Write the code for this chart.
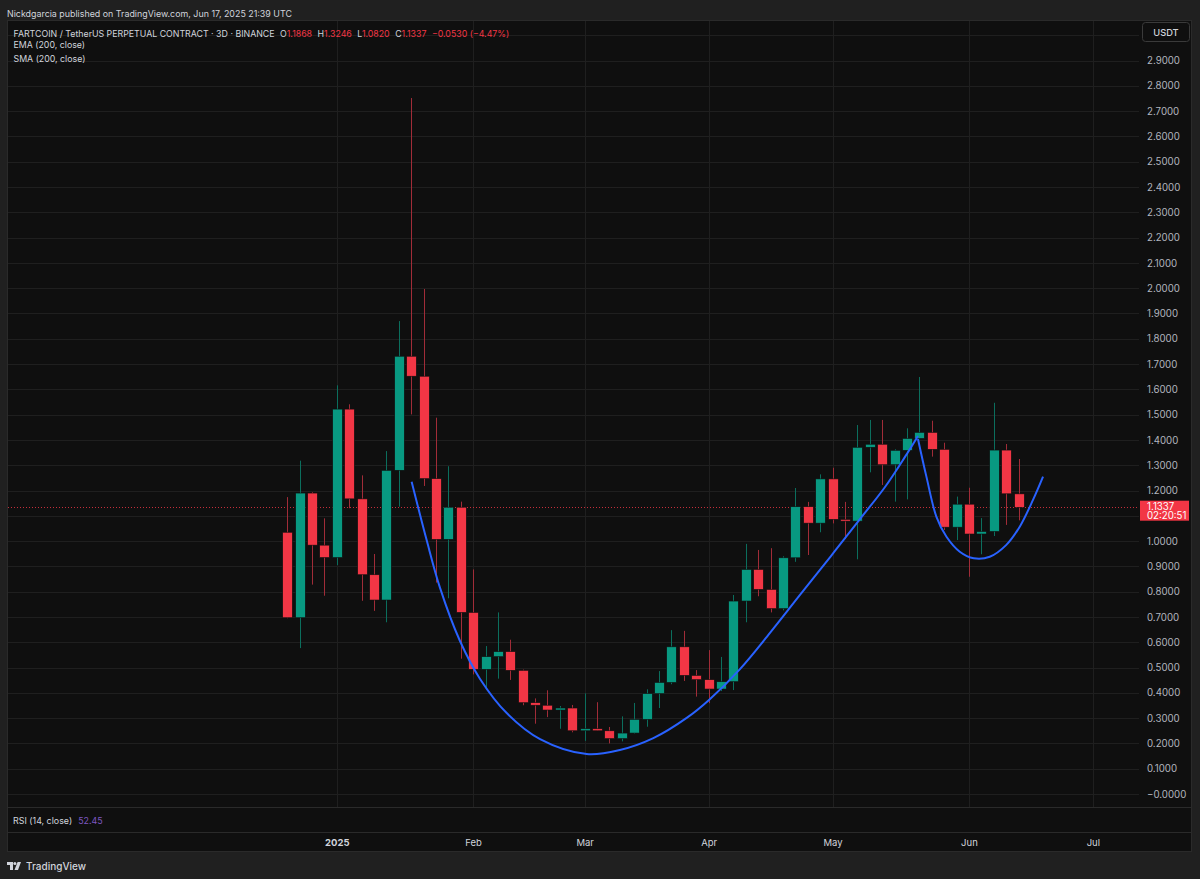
<!DOCTYPE html>
<html>
<head>
<meta charset="utf-8">
<script src="https://cdn.jsdelivr.net/npm/d3@7"></script>
<style>
  html, body { margin: 0; padding: 0; background: #202020; }
  svg { display: block; font-family: Inter, 'Noto Sans', sans-serif; }
</style>
</head>
<body>
<div id="chart"></div>
<script>
// 3D candles, FARTCOIN/USDT perp, Dec 20 2024 -> Jun 15 2025
var opens = [1.035, 0.697, 1.190, 0.984, 0.935, 1.522, 1.167, 0.867, 0.767, 1.280,
  1.731, 1.652, 1.247, 1.007, 1.134, 0.718, 0.493, 0.543, 0.563, 0.489,
  0.361, 0.351, 0.332, 0.340, 0.250, 0.258, 0.250, 0.219, 0.241, 0.295,
  0.397, 0.441, 0.582, 0.469, 0.452, 0.415, 0.444, 0.763, 0.888, 0.809,
  0.733, 0.934, 1.136, 1.071, 1.246, 1.086, 1.079, 1.371, 1.383, 1.302,
  1.359, 1.406, 1.430, 1.363, 1.055, 1.146, 1.028, 1.038, 1.360, 1.1868]
var highs = [1.174, 1.318, 1.194, 1.090, 1.616, 1.541, 1.260, 0.949, 1.356, 1.870,
  2.752, 1.997, 1.488, 1.296, 1.156, 0.888, 0.585, 0.718, 0.610, 0.492,
  0.378, 0.410, 0.348, 0.352, 0.398, 0.363, 0.265, 0.307, 0.360, 0.414,
  0.486, 0.648, 0.645, 0.490, 0.569, 0.542, 0.787, 0.989, 0.965, 0.972,
  0.940, 1.210, 1.155, 1.264, 1.290, 1.155, 1.459, 1.479, 1.479, 1.363,
  1.446, 1.649, 1.476, 1.389, 1.176, 1.211, 1.091, 1.547, 1.384, 1.3246]
var lows = [0.695, 0.577, 0.828, 0.784, 0.905, 1.130, 0.764, 0.724, 0.679, 1.136,
  1.501, 1.218, 0.836, 0.774, 0.535, 0.473, 0.418, 0.456, 0.451, 0.351,
  0.278, 0.304, 0.258, 0.244, 0.210, 0.249, 0.200, 0.208, 0.239, 0.266,
  0.340, 0.434, 0.447, 0.385, 0.359, 0.407, 0.411, 0.679, 0.782, 0.718,
  0.726, 0.918, 0.945, 1.035, 1.070, 1.008, 0.928, 1.272, 1.222, 1.156,
  1.165, 1.405, 1.334, 1.044, 1.004, 0.859, 0.948, 1.020, 1.064, 1.0820]
var closes = [0.697, 1.190, 0.984, 0.935, 1.522, 1.167, 0.867, 0.767, 1.280, 1.731,
  1.652, 1.247, 1.007, 1.134, 0.718, 0.493, 0.543, 0.563, 0.489, 0.361,
  0.351, 0.332, 0.340, 0.250, 0.258, 0.250, 0.219, 0.241, 0.295, 0.397,
  0.441, 0.582, 0.469, 0.452, 0.415, 0.444, 0.763, 0.888, 0.809, 0.733,
  0.934, 1.136, 1.071, 1.246, 1.086, 1.079, 1.371, 1.383, 1.302, 1.359,
  1.406, 1.430, 1.363, 1.055, 1.146, 1.028, 1.038, 1.360, 1.187, 1.1337]

// hand-drawn curves (bar offset, price)
var cupBars = [10.04, 11.25, 12.33, 13.94, 15.56, 17.71, 20.40, 24.16, 26.84, 29.54, 32.23,
  34.03, 36.53, 38.95, 41.37, 43.87, 46.21, 48.23, 49.84, 50.89]
var cupPrices = [1.235, 1.004, 0.815, 0.605, 0.455, 0.320, 0.217, 0.158, 0.174, 0.221, 0.301,
  0.372, 0.494, 0.637, 0.787, 0.941, 1.087, 1.214, 1.333, 1.416]
var handleBars = [50.89, 51.57, 52.38, 53.19, 54.26, 55.39, 56.68, 58.02, 59.10, 60.17, 60.98]
var handlePrices = [1.404, 1.255, 1.096, 1.017, 0.958, 0.932, 0.938, 0.985, 1.057, 1.163, 1.255]

var priceTicks = [0, 0.1, 0.2, 0.3, 0.4, 0.5, 0.6, 0.7, 0.8, 0.9, 1.0, 1.1, 1.2, 1.3, 1.4,
  1.5, 1.6, 1.7, 1.8, 1.9, 2.0, 2.1, 2.2, 2.3, 2.4, 2.5, 2.6, 2.7, 2.8, 2.9, 3.0]
// 1.1 sits under the last price tag and 3.0 under the currency box
var hiddenLabels = [1.1, 3.0]
var monthDates = ['2025-01-01', '2025-02-03', '2025-03-02', '2025-04-01', '2025-05-01', '2025-06-03', '2025-07-03']
var monthLabels = ['2025', 'Feb', 'Mar', 'Apr', 'May', 'Jun', 'Jul']

var lastPrice = 1.1337

var width = 1200
var height = 879

var panel = { left: 7, right: 1192, top: 20, bottom: 852 }
var plotRight = 1139
var mainBottom = 807
var timeTop = 832

var up = '#089981'
var down = '#f23645'
var upWick = '#0b6e5d'
var downWick = '#a12c38'
var textColor = '#d1d4dc'
var axisText = '#b2b5be'
var gridColor = '#1f1f1f'

var startDate = new Date(Date.UTC(2024, 11, 20))
function barDate(i) {
  return new Date(startDate.getTime() + i * 3 * 864e5)
}

var candles = opens.map(function(o, i) {
  return { date: barDate(i), open: o, high: highs[i], low: lows[i], close: closes[i] }
})

var x = d3
  .scaleUtc()
  .domain([barDate(0), barDate(59)])
  .range([287.2, 1018.5])

var y = d3
  .scaleLinear()
  .domain([0, 2.9])
  .range([794, 60.6])

var svg = d3
  .select('#chart')
  .append('svg')
  .attr('width', width)
  .attr('height', height)

svg.append('rect').attr('width', width).attr('height', height).attr('fill', '#202020')

// published line
svg
  .append('text')
  .attr('x', 7)
  .attr('y', 16.7)
  .attr('font-size', 8.9)
  .attr('fill', textColor)
  .text('Nickdgarcia published on TradingView.com, Jun 17, 2025 21:39 UTC')

// chart panel
svg
  .append('rect')
  .attr('x', panel.left + 0.5)
  .attr('y', panel.top + 0.5)
  .attr('width', panel.right - panel.left - 1)
  .attr('height', panel.bottom - panel.top - 1)
  .attr('fill', '#0f0f0f')
  .attr('stroke', '#2a2a2a')

// horizontal grid
svg
  .selectAll('.hgrid')
  .data(priceTicks)
  .enter()
  .append('line')
  .attr('class', 'hgrid')
  .attr('x1', panel.left + 1)
  .attr('x2', plotRight)
  .attr('y1', d => Math.round(y(d)) + 0.5)
  .attr('y2', d => Math.round(y(d)) + 0.5)
  .attr('stroke', gridColor)

// vertical grid at month labels
svg
  .selectAll('.vgrid')
  .data(monthDates)
  .enter()
  .append('line')
  .attr('class', 'vgrid')
  .attr('x1', d => Math.round(x(new Date(d))) + 0.5)
  .attr('x2', d => Math.round(x(new Date(d))) + 0.5)
  .attr('y1', panel.top + 1)
  .attr('y2', mainBottom)
  .attr('stroke', gridColor)

// pane separators
svg
  .selectAll('.sep')
  .data([mainBottom, timeTop])
  .enter()
  .append('line')
  .attr('class', 'sep')
  .attr('x1', panel.left + 1)
  .attr('x2', panel.right - 1)
  .attr('y1', d => d + 0.5)
  .attr('y2', d => d + 0.5)
  .attr('stroke', '#2a2a2a')

// last price dotted line
svg
  .append('line')
  .attr('x1', panel.left + 1)
  .attr('x2', plotRight)
  .attr('y1', Math.round(y(lastPrice)) + 0.5)
  .attr('y2', Math.round(y(lastPrice)) + 0.5)
  .attr('stroke', down)
  .attr('stroke-width', 1)
  .attr('stroke-dasharray', '1,2')
  .attr('opacity', 0.8)

// candles
var barW = 9.6
var g = svg.append('g').attr('class', 'candles')

g.selectAll('.wick')
  .data(candles)
  .enter()
  .append('line')
  .attr('class', 'wick')
  .attr('x1', d => Math.round(x(d.date)) + 0.5)
  .attr('x2', d => Math.round(x(d.date)) + 0.5)
  .attr('y1', d => y(d.high))
  .attr('y2', d => y(d.low))
  .attr('stroke', d => (d.close >= d.open ? upWick : downWick))
  .attr('stroke-width', 1)

g.selectAll('.body')
  .data(candles)
  .enter()
  .append('rect')
  .attr('class', 'body')
  .attr('x', d => Math.round(x(d.date)) + 0.5 - barW / 2)
  .attr('width', barW)
  .attr('y', d => y(Math.max(d.open, d.close)))
  .attr('height', d => Math.max(1.5, Math.abs(y(d.open) - y(d.close))))
  .attr('fill', d => (d.close >= d.open ? up : down))
  .attr('stroke', '#0f0f0f')
  .attr('stroke-width', 0.6)

// drawn curves
var curveLine = d3
  .line()
  .x(d => x(barDate(0).getTime() + d[0] * 3 * 864e5))
  .y(d => y(d[1]))
  .curve(d3.curveCatmullRom.alpha(0.5))

svg
  .selectAll('.drawing')
  .data([
    cupBars.map((b, i) => [b, cupPrices[i]]),
    handleBars.map((b, i) => [b, handlePrices[i]])
  ])
  .enter()
  .append('path')
  .attr('class', 'drawing')
  .attr('d', curveLine)
  .attr('fill', 'none')
  .attr('stroke', '#2962ff')
  .attr('stroke-width', 2)

// price axis
var yAxis = d3
  .axisRight(y)
  .tickValues(priceTicks.filter(d => hiddenLabels.indexOf(d) === -1))
  .tickSize(0)
  .tickPadding(0)
  .tickFormat(d => (d === 0 ? '\u22120.0000' : d3.format('.4f')(d)))

var yAxisG = svg
  .append('g')
  .attr('transform', 'translate(1147,0)')
  .call(yAxis)
yAxisG.select('.domain').remove()
yAxisG
  .selectAll('text')
  .attr('fill', axisText)
  .attr('font-size', 9.7)
  .attr('font-family', 'Inter, sans-serif')

// currency box
svg
  .append('rect')
  .attr('x', 1142.5)
  .attr('y', 22.5)
  .attr('width', 47)
  .attr('height', 19)
  .attr('rx', 3)
  .attr('fill', '#0f0f0f')
  .attr('stroke', '#3a3a3a')
svg
  .append('text')
  .attr('x', 1166)
  .attr('y', 36)
  .attr('text-anchor', 'middle')
  .attr('font-size', 9.3)
  .attr('font-weight', 500)
  .attr('fill', textColor)
  .text('USDT')

// last price tag
svg
  .append('rect')
  .attr('x', 1140)
  .attr('y', y(lastPrice) - 6.6)
  .attr('width', 49)
  .attr('height', 20)
  .attr('fill', down)
svg
  .append('text')
  .attr('x', 1147)
  .attr('y', y(lastPrice) + 2.3)
  .attr('font-size', 9.7)
  .attr('fill', '#ffffff')
  .text(d3.format('.4f')(lastPrice))
svg
  .append('text')
  .attr('x', 1147)
  .attr('y', y(lastPrice) + 11.8)
  .attr('font-size', 9.7)
  .attr('fill', '#ffffff')
  .text('02:20:51')

// time axis
var xAxis = d3
  .axisBottom(x)
  .tickValues(monthDates.map(d => new Date(d)))
  .tickSize(0)
  .tickPadding(0)
  .tickFormat((d, i) => monthLabels[i])

var xAxisG = svg
  .append('g')
  .attr('transform', 'translate(0,' + (timeTop + 7.5) + ')')
  .call(xAxis)
xAxisG.select('.domain').remove()
xAxisG
  .selectAll('text')
  .attr('fill', textColor)
  .attr('font-size', 9.5)
  .attr('font-family', 'Inter, sans-serif')
  .attr('font-weight', (d, i) => (i === 0 ? 700 : 400))

// legend
var legend = svg
  .append('text')
  .attr('x', 13.5)
  .attr('y', 36.7)
  .attr('font-size', 8.8)
  .attr('fill', textColor)
legend.append('tspan').text('FARTCOIN / TetherUS PERPETUAL CONTRACT \u00b7 3D \u00b7 BINANCE')
var ohlc = [['O', '1.1868'], ['H', '1.3246'], ['L', '1.0820'], ['C', '1.1337']]
ohlc.forEach(function(p) {
  legend.append('tspan').attr('dx', 5.5).text(p[0])
  legend.append('tspan').attr('fill', down).text(p[1])
})
legend.append('tspan').attr('dx', 5.5).attr('fill', down).text('\u22120.0530 (\u22124.47%)')

svg
  .append('text')
  .attr('x', 13.5)
  .attr('y', 48.3)
  .attr('font-size', 8.8)
  .attr('fill', textColor)
  .text('EMA (200, close)')
svg
  .append('text')
  .attr('x', 13.5)
  .attr('y', 61.7)
  .attr('font-size', 8.8)
  .attr('fill', textColor)
  .text('SMA (200, close)')

// RSI pane
var rsi = svg
  .append('text')
  .attr('x', 13)
  .attr('y', 824.3)
  .attr('font-size', 8.9)
  .attr('fill', textColor)
rsi.append('tspan').text('RSI (14, close)')
rsi.append('tspan').attr('dx', 6).attr('fill', '#7e57c2').text('52.45')

// TradingView logo
var logo = svg.append('g').attr('fill', textColor)
logo.append('path').attr('d', 'M7,862 H13 V870 H10 V865 H7 Z')
logo.append('circle').attr('cx', 14.9).attr('cy', 863.5).attr('r', 1.5)
logo.append('path').attr('d', 'M17.6,862 H21 L18,870 H14.5 Z')
svg
  .append('text')
  .attr('x', 26)
  .attr('y', 870)
  .attr('font-size', 10)
  .attr('font-weight', 500)
  .attr('fill', textColor)
  .text('TradingView')
</script>
</body>
</html>
